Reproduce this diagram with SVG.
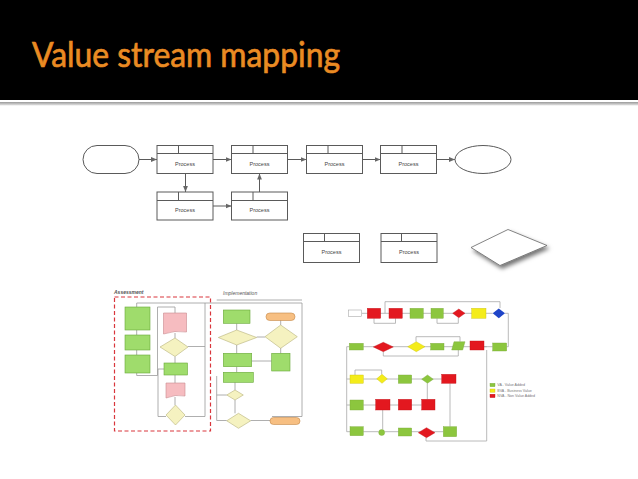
<svg xmlns="http://www.w3.org/2000/svg" width="638" height="479" viewBox="0 0 638 479">
<defs>
<style>
.proc rect,.proc line{fill:#fff;stroke:#5a5a5a;stroke-width:1}
.proc line{fill:none}
.pt{font-family:"Liberation Sans",Arial,sans-serif;font-size:5.5px;fill:#444;text-anchor:middle}
.conn line{stroke:#5a5a5a;stroke-width:1}
.g1{fill:#9fdc6c;stroke:#6aa83a;stroke-width:0.6}
.pk{fill:#f6bcc0;stroke:#c98a8e;stroke-width:0.6}
.yd{fill:#f5f2c0;stroke:#b7b27a;stroke-width:0.6}
.or{fill:#f7bf82;stroke:#c48848;stroke-width:0.6}
.ln{fill:none;stroke:#9a9a9a;stroke-width:0.8}
.vg{fill:#8cc63e;stroke:#7aa83a;stroke-width:0.4}
.vr{fill:#e3181f;stroke:#c01018;stroke-width:0.4}
.vy{fill:#f4ec1a;stroke:#c8c010;stroke-width:0.4}
.vb{fill:#1f45c8}
.ln2{fill:none;stroke:#a8a8a8;stroke-width:0.8}
.lg{font-family:"Liberation Sans",Arial,sans-serif;font-size:3.6px;fill:#777}
.tiny{font-family:"Liberation Sans",Arial,sans-serif;font-size:5px;fill:#555;font-style:italic}
</style>
<marker id="arr" viewBox="0 0 10 10" refX="10" refY="5" markerWidth="6" markerHeight="6" orient="auto" markerUnits="userSpaceOnUse">
<path d="M0,1 L10,5 L0,9 z" fill="#666"/>
</marker>
<filter id="sh" x="-30%" y="-30%" width="170%" height="180%">
<feDropShadow dx="2" dy="3" stdDeviation="2" flood-color="#000" flood-opacity="0.55"/>
</filter>
<linearGradient id="bar" x1="0" y1="0" x2="0" y2="1">
<stop offset="0" stop-color="#9a9a9a"/>
<stop offset="1" stop-color="#e6e6e6"/>
</linearGradient>
</defs>
<rect width="638" height="479" fill="#fff"/>
<g id="header">
<rect x="0" y="0" width="638" height="100" fill="#000"/>
<rect x="0" y="102" width="638" height="3.5" fill="url(#bar)"/>
<text x="32" y="67" font-family="Lato,'Open Sans',sans-serif" font-size="35" fill="#ea8b23" stroke="#ea8b23" stroke-width="0.7" textLength="308" lengthAdjust="spacingAndGlyphs">Value stream mapping</text>
</g>
<g id="connectors" class="conn">
<line x1="139" y1="159.5" x2="157" y2="159.5" marker-end="url(#arr)"/>
<line x1="213" y1="159.5" x2="231.5" y2="159.5" marker-end="url(#arr)"/>
<line x1="287.5" y1="159.5" x2="306.5" y2="159.5" marker-end="url(#arr)"/>
<line x1="362.5" y1="159.5" x2="380.5" y2="159.5" marker-end="url(#arr)"/>
<line x1="436.5" y1="159.5" x2="455" y2="159.5" marker-end="url(#arr)"/>
<line x1="185.5" y1="173.5" x2="185.5" y2="192" marker-end="url(#arr)"/>
<line x1="213" y1="206" x2="231.5" y2="206" marker-end="url(#arr)"/>
<line x1="259.5" y1="192" x2="259.5" y2="173.5" marker-end="url(#arr)"/>
</g>
<g id="start">
<rect x="83" y="145.5" width="56" height="28" rx="14" fill="#fff" stroke="#5a5a5a"/>
</g>
<g id="p1" class="proc"><rect x="157" y="145.5" width="56" height="28"/><line x1="157" y1="153.5" x2="213" y2="153.5"/><line x1="178.5" y1="145.5" x2="178.5" y2="153.5"/><text class="pt" x="185" y="165.5">Process</text></g>
<g id="p2" class="proc"><rect x="231.5" y="145.5" width="56" height="28"/><line x1="231.5" y1="153.5" x2="287.5" y2="153.5"/><line x1="253" y1="145.5" x2="253" y2="153.5"/><text class="pt" x="259.5" y="165.5">Process</text></g>
<g id="p3" class="proc"><rect x="306.5" y="145.5" width="56" height="28"/><line x1="306.5" y1="153.5" x2="362.5" y2="153.5"/><line x1="328" y1="145.5" x2="328" y2="153.5"/><text class="pt" x="334.5" y="165.5">Process</text></g>
<g id="p4" class="proc"><rect x="380.5" y="145.5" width="56" height="28"/><line x1="380.5" y1="153.5" x2="436.5" y2="153.5"/><line x1="402" y1="145.5" x2="402" y2="153.5"/><text class="pt" x="408.5" y="165.5">Process</text></g>
<g id="end"><ellipse cx="483" cy="159.5" rx="28" ry="14" fill="#fff" stroke="#5a5a5a"/></g>
<g id="p5" class="proc"><rect x="157" y="192" width="56" height="28"/><line x1="157" y1="200.5" x2="213" y2="200.5"/><line x1="178.5" y1="192" x2="178.5" y2="200.5"/><text class="pt" x="185" y="212">Process</text></g>
<g id="p6" class="proc"><rect x="231.5" y="192" width="56" height="28"/><line x1="231.5" y1="200.5" x2="287.5" y2="200.5"/><line x1="253" y1="192" x2="253" y2="200.5"/><text class="pt" x="259.5" y="212">Process</text></g>
<g id="p7" class="proc"><rect x="303.5" y="233.5" width="56" height="29"/><line x1="303.5" y1="241.5" x2="359.5" y2="241.5"/><line x1="324.5" y1="233.5" x2="324.5" y2="241.5"/><text class="pt" x="331.5" y="254">Process</text></g>
<g id="p8" class="proc"><rect x="381" y="233.5" width="56" height="29"/><line x1="381" y1="241.5" x2="437" y2="241.5"/><line x1="401.5" y1="233.5" x2="401.5" y2="241.5"/><text class="pt" x="409" y="254">Process</text></g>
<g id="decision"><polygon points="508,229.5 547,245.5 500,265.5 471,247.5" fill="#fff" stroke="#666" stroke-width="0.8" filter="url(#sh)"/></g>

<g id="left-chart">
<text class="tiny" x="114" y="294" font-weight="bold">Assessment</text>
<text class="tiny" x="223" y="295">Implementation</text>
<rect x="114.5" y="297" width="96" height="134" fill="none" stroke="#d9363c" stroke-width="1.2" stroke-dasharray="4,2.5"/>
<path class="ln" d="M136.7,307 V303 H302 V416.5 H272"/>
<path class="ln" d="M205,303 V416.5 H185"/>
<path class="ln" d="M188,346.5 H205"/>
<path class="ln" d="M136.7,373 V375.5 H157.5 V307 H175 V313"/>
<path class="ln" d="M164,369 H158 V416.5 H166"/>
<path class="ln" d="M175,333 V338 M175,356.5 V363 M175,375 V383 M175,397 V405"/>
<path class="ln" d="M136.7,330 V335 M136.7,350 V355"/>
<rect class="g1" x="125" y="307" width="25" height="23"/>
<rect class="g1" x="125" y="335" width="25" height="15"/>
<rect class="g1" x="125" y="355" width="25" height="18"/>
<path class="pk" d="M163.5,313 H186.5 V332 Q175,330 163.5,334 Z"/>
<polygon class="yd" points="175,338 188,347 175,356.5 160,347"/>
<rect class="g1" x="164" y="363" width="23.5" height="12"/>
<path class="pk" d="M166,383 H185 V396 Q175.5,394 166,398 Z"/>
<polygon class="yd" points="175.5,405 185,415 175.5,425 166,415"/>

<path class="ln" d="M216.7,300 H302"/>
<path class="ln" d="M216.7,376 V420.5 H226.7"/>
<path class="ln" d="M236.7,323.5 V330 M236.7,345 V353.5 M236.7,366.7 V372.3 M235,382.3 V390 M235,400 V413.3"/>
<path class="ln" d="M256.7,337 H265 M280.7,320 V325 M280.7,348 V353.5 M271.7,361 H251.7 M250.7,420.5 H270"/>
<path class="ln" d="M226.7,395 H216.7"/>
<rect class="g1" x="223.3" y="310" width="26.7" height="13.3"/>
<rect class="or" x="266" y="313" width="29" height="7.5" rx="3.7"/>
<polygon class="yd" points="236.7,330 256.7,337.5 236.7,345 218.3,337.5"/>
<polygon class="yd" points="280.7,325 297.3,336.7 280.7,348.3 265,336.7"/>
<rect class="g1" x="223.3" y="353.3" width="28.4" height="13.4"/>
<rect class="g1" x="271.7" y="353.3" width="18.3" height="17.7"/>
<rect class="g1" x="223.3" y="372.3" width="30" height="10"/>
<polygon class="yd" points="235,390 243.3,395 235,400 226.7,395"/>
<polygon class="yd" points="238.5,413.3 250.7,420.8 238.5,428.3 226.7,420.8"/>
<rect class="or" x="270" y="417.5" width="30" height="7" rx="3.5"/>
</g>

<g id="right-chart">
<path class="ln2" d="M362,313.3 H492.7"/>
<path class="ln2" d="M385,313.3 V301.7 H500 V308"/>
<path class="ln2" d="M374,318.3 V323.3 H395.5 V318.3"/>
<path class="ln2" d="M437,318.3 V323.3 H458.3 V317.7"/>
<path class="ln2" d="M505,313.3 H508.3 V346.7 H506.7"/>
<path class="ln2" d="M363.3,346.7 H492.7"/>
<path class="ln2" d="M416,341.7 V336.7 H460 V341.7"/>
<path class="ln2" d="M383.3,351.7 V356 H458.3 V350"/>
<path class="ln2" d="M349.3,346.7 H346.7 V379 H350"/>
<path class="ln2" d="M363.3,379 H441.7"/>
<path class="ln2" d="M355,375 V370 H381.7 V374.3"/>
<path class="ln2" d="M427.3,383.3 V399.3"/>
<path class="ln2" d="M346.7,379 V405 H350 M363.3,405 H421.7"/>
<path class="ln2" d="M382.7,410 V429.5"/>
<path class="ln2" d="M346.7,405 V431.7 H350 M363.3,431.7 H378.7 M384.7,431.7 H443.3"/>
<path class="ln2" d="M450,383.3 V426.7"/>
<path class="ln2" d="M426,437.7 V441 H486.7 V350 M484,346.7 H486.7"/>
<rect x="348.3" y="310" width="13.4" height="6.7" fill="#fff" stroke="#999" stroke-width="0.5"/>
<rect class="vr" x="367.3" y="308.3" width="13.4" height="10"/>
<rect class="vr" x="389" y="308.3" width="13.3" height="10"/>
<rect class="vg" x="410" y="308.3" width="13.3" height="10"/>
<rect class="vg" x="431" y="308.3" width="12.3" height="10"/>
<polygon class="vr" points="458.8,309 465,313.3 458.8,317.7 452.7,313.3"/>
<rect class="vy" x="471.7" y="308.3" width="14.3" height="10"/>
<polygon class="vb" points="498.8,308.5 505,313.3 498.8,318.2 492.7,313.3"/>
<rect class="vg" x="349.3" y="343.3" width="14" height="6.7"/>
<polygon class="vr" points="383.3,342.3 393.3,346.9 383.3,351.7 373.3,346.9"/>
<polygon class="vy" points="416.3,341.7 425,346.7 416.3,351.7 407.7,346.7"/>
<rect class="vg" x="430.7" y="343.3" width="13.3" height="6.7"/>
<polygon class="vg" points="454,341.7 465,341.7 462.7,350 451.7,350"/>
<rect class="vr" x="470" y="341" width="14" height="9"/>
<rect class="vg" x="492.7" y="343" width="14" height="8"/>
<rect class="vy" x="350" y="375" width="13.3" height="8.3"/>
<polygon class="vy" points="382,374.3 387.3,378.8 382,383.3 376.7,378.8"/>
<rect class="vg" x="398.3" y="375" width="13.4" height="8.3"/>
<polygon class="vg" points="427.5,375 433.3,379.2 427.5,383.3 421.7,379.2"/>
<rect class="vr" x="441.7" y="374.3" width="14.3" height="9"/>
<rect class="vg" x="350" y="400" width="13.3" height="10"/>
<rect class="vr" x="375.7" y="399.3" width="14.3" height="10.7"/>
<rect class="vr" x="398.3" y="399.3" width="13.4" height="10.7"/>
<rect class="vr" x="421.7" y="399.3" width="13.3" height="10.7"/>
<rect class="vg" x="350" y="426.7" width="13.3" height="9"/>
<circle class="vg" cx="381.7" cy="432.5" r="3"/>
<rect class="vg" x="398.3" y="428" width="13.4" height="8"/>
<polygon class="vr" points="426.5,427.7 435,432.7 426.5,437.7 418.3,432.7"/>
<rect class="vg" x="443.3" y="426.7" width="13.4" height="10"/>
<rect class="vg" x="490" y="383.3" width="5" height="3.4"/>
<rect class="vy" x="490" y="389" width="5" height="3.2"/>
<rect class="vr" x="490" y="394.2" width="5" height="3.4"/>
<text class="lg" x="497.3" y="386.4">VA - Value Added</text>
<text class="lg" x="497.3" y="391.8">BVA - Business Value</text>
<text class="lg" x="497.3" y="397.3">NVA - Non Value Added</text>
</g>
</svg>
